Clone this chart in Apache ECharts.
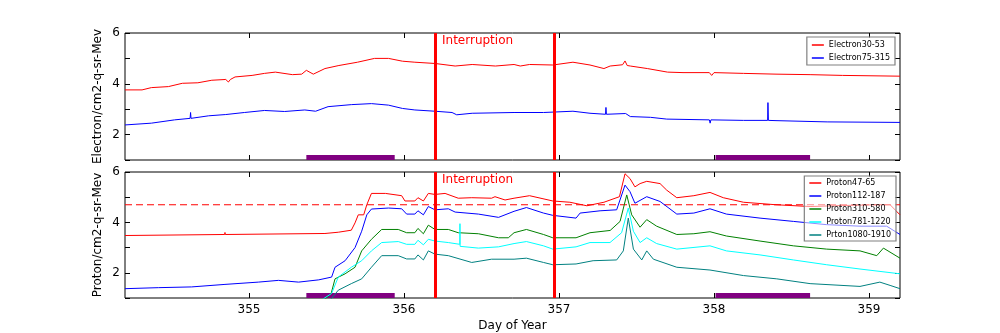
<!DOCTYPE html>
<html><head><meta charset="utf-8">
<script src="https://cdn.jsdelivr.net/npm/echarts@6/dist/echarts.min.js"></script>
<style>html,body{margin:0;padding:0;background:#fff}#c{width:1000px;height:333px}</style>
</head><body><div id="c"></div><script>
// ---- data ----
const xTicks = [355, 356, 357, 358, 359];
const yTicks = [1, 2, 3, 4, 5, 6];
const yLabels = [2, 4, 6];
const interruptionDays = [356.2, 356.97];
const purpleSpans = [[355.37, 355.94], [358.01, 358.62]];
const protonThreshold = 4.7;

const electron30_53 = [[354.2,3.76],[354.31,3.76],[354.37,3.85],[354.48,3.89],[354.57,4.02],[354.67,4.04],[354.76,4.14],[354.85,4.17],[354.867,4.07],[354.88,4.17],[354.91,4.27],[355.02,4.33],[355.1,4.41],[355.17,4.46],[355.28,4.36],[355.34,4.38],[355.37,4.53],[355.415,4.38],[355.49,4.6],[355.58,4.72],[355.7,4.85],[355.81,5.0],[355.9,5.0],[355.99,4.89],[356.07,4.85],[356.2,4.8],[356.33,4.7],[356.44,4.76],[356.59,4.7],[356.71,4.76],[356.75,4.7],[356.81,4.76],[356.96,4.74],[357.09,4.85],[357.2,4.74],[357.29,4.6],[357.33,4.7],[357.41,4.75],[357.426,4.9],[357.44,4.72],[357.46,4.7],[357.57,4.6],[357.7,4.46],[357.8,4.44],[357.97,4.44],[357.985,4.33],[358.0,4.44],[358.19,4.41],[358.4,4.38],[358.62,4.36],[358.83,4.33],[359.2,4.3]];
const electron75_315 = [[354.2,2.38],[354.37,2.45],[354.52,2.58],[354.62,2.64],[354.623,2.87],[354.626,2.64],[354.74,2.74],[354.85,2.79],[354.97,2.87],[355.1,2.95],[355.23,2.91],[355.36,2.97],[355.43,2.92],[355.51,3.1],[355.66,3.18],[355.79,3.22],[355.9,3.16],[355.99,3.03],[356.07,2.97],[356.2,2.92],[356.31,2.87],[356.34,2.78],[356.44,2.84],[356.71,2.87],[356.9,2.87],[357.09,2.92],[357.2,2.84],[357.3,2.8],[357.303,3.07],[357.306,2.8],[357.43,2.83],[357.46,2.71],[357.59,2.68],[357.695,2.61],[357.97,2.58],[357.975,2.45],[357.98,2.58],[358.19,2.56],[358.346,2.56],[358.348,3.26],[358.351,2.56],[358.4,2.55],[358.73,2.5],[359.2,2.48]];

const proton47_65 = [[354.2,3.48],[354.843,3.52],[354.845,3.6],[354.847,3.52],[355.49,3.56],[355.576,3.61],[355.66,3.69],[355.684,3.98],[355.705,4.3],[355.74,4.3],[355.76,4.7],[355.79,5.15],[355.88,5.15],[355.985,5.06],[356.006,4.85],[356.07,4.85],[356.09,4.98],[356.125,4.85],[356.157,5.15],[356.2,5.11],[356.265,5.15],[356.35,4.96],[356.437,4.98],[356.565,4.96],[356.587,5.02],[356.652,4.89],[356.71,4.96],[356.81,5.06],[356.96,4.85],[357.07,4.8],[357.18,4.66],[357.29,4.8],[357.39,5.02],[357.426,5.93],[357.458,5.74],[357.49,5.41],[357.523,5.54],[357.566,5.63],[357.652,5.54],[357.695,5.28],[357.76,4.98],[357.87,5.06],[357.974,5.19],[358.06,4.98],[358.19,4.8],[358.4,4.7],[358.62,4.63],[358.83,4.67],[359.05,4.7],[359.136,4.7],[359.2,4.3]];
const proton112_187 = [[354.2,1.37],[354.415,1.41],[354.63,1.44],[354.845,1.54],[355.06,1.63],[355.19,1.7],[355.32,1.63],[355.45,1.72],[355.533,1.83],[355.555,2.22],[355.62,2.48],[355.684,3.0],[355.727,3.65],[355.76,4.3],[355.79,4.53],[355.9,4.57],[355.985,4.54],[356.017,4.33],[356.07,4.33],[356.09,4.46],[356.125,4.3],[356.157,4.63],[356.2,4.5],[356.286,4.54],[356.33,4.41],[356.48,4.33],[356.61,4.2],[356.71,4.44],[356.79,4.59],[356.9,4.37],[356.96,4.28],[357.11,4.17],[357.136,4.37],[357.265,4.46],[357.372,4.5],[357.426,5.48],[357.458,5.22],[357.49,4.76],[357.566,5.02],[357.652,4.83],[357.76,4.33],[357.87,4.37],[357.974,4.54],[358.08,4.33],[358.297,4.17],[358.512,4.04],[358.727,3.91],[358.942,3.85],[359.114,3.85],[359.2,3.52]];
const proton310_580 = [[355.4,0.9],[355.49,0.95],[355.53,1.18],[355.555,1.76],[355.62,1.96],[355.684,2.22],[355.727,2.87],[355.79,3.33],[355.856,3.72],[355.963,3.72],[356.017,3.59],[356.07,3.59],[356.09,3.76],[356.125,3.55],[356.157,3.89],[356.2,3.72],[356.286,3.72],[356.35,3.59],[356.48,3.55],[356.61,3.39],[356.673,3.39],[356.71,3.59],[356.79,3.72],[356.9,3.52],[356.96,3.39],[357.11,3.39],[357.2,3.59],[357.33,3.68],[357.394,4.04],[357.437,5.09],[357.469,4.3],[357.523,3.81],[357.566,4.11],[357.63,3.85],[357.76,3.52],[357.87,3.55],[357.974,3.63],[358.08,3.46],[358.297,3.26],[358.512,3.07],[358.727,2.94],[358.942,2.87],[359.05,2.68],[359.093,2.98],[359.2,2.58]];
const proton781_1220 = [[355.45,0.85],[355.533,1.18],[355.576,1.83],[355.66,2.22],[355.727,2.48],[355.79,2.87],[355.856,3.2],[355.963,3.24],[356.017,3.13],[356.07,3.13],[356.09,3.29],[356.125,3.11],[356.157,3.33],[356.2,3.26],[356.286,3.2],[356.36,3.13],[356.361,3.95],[356.362,3.05],[356.372,3.0],[356.48,2.98],[356.61,3.03],[356.71,3.16],[356.79,3.24],[356.9,3.07],[356.96,2.94],[357.11,3.03],[357.2,3.2],[357.329,3.2],[357.404,3.59],[357.447,4.57],[357.48,3.65],[357.523,3.2],[357.566,3.39],[357.63,3.16],[357.76,2.94],[357.974,3.07],[358.08,2.87],[358.297,2.71],[358.512,2.51],[358.727,2.32],[358.942,2.15],[359.2,1.96]];
const proton1080_1910 = [[355.5,0.85],[355.533,0.98],[355.576,1.31],[355.66,1.57],[355.727,1.76],[355.79,2.22],[355.856,2.68],[355.963,2.68],[356.017,2.55],[356.07,2.55],[356.09,2.71],[356.125,2.51],[356.157,2.87],[356.2,2.74],[356.286,2.68],[356.437,2.41],[356.565,2.54],[356.71,2.54],[356.79,2.58],[356.9,2.41],[356.96,2.32],[357.11,2.35],[357.22,2.48],[357.372,2.51],[357.415,2.87],[357.447,4.17],[357.48,2.94],[357.534,2.51],[357.566,2.87],[357.609,2.54],[357.76,2.22],[357.974,2.11],[358.19,1.89],[358.405,1.76],[358.62,1.57],[358.942,1.46],[359.07,1.63],[359.136,1.5],[359.2,1.37]];

const electronNames = ['Electron30-53', 'Electron75-315'];
const protonNames = ['Proton47-65', 'Proton112-187', 'Proton310-580', 'Proton781-1220', 'Prton1080-1910'];
const electronColors = ['#ff0000', '#0000ff'];
const protonColors = ['#ff0000', '#0000ff', '#008000', '#00ffff', '#008080'];

// ---- chart ----
const FONT = 'DejaVu Sans';
const chart = echarts.init(document.getElementById('c'), null, {renderer: 'canvas'});
const X_MIN = 354.2, X_MAX = 359.2, Y_MIN = 1, Y_MAX = 6;

function xAx(grid, pos, labels, name) {
  return {
    type: 'value', gridIndex: grid, position: pos, min: X_MIN, max: X_MAX,
    axisLine: {show: false},
    splitLine: {show: false},
    axisTick: {show: true, inside: true, length: 5, lineStyle: {color: '#000'}, customValues: xTicks},
    axisLabel: {show: labels, customValues: xTicks, margin: 6, color: '#000', fontFamily: FONT, fontSize: 12},
    name: name || '', nameLocation: 'middle', nameGap: 22, nameMoveOverlap: false,
    nameTextStyle: {color: '#000', fontFamily: FONT, fontSize: 12}
  };
}
function yAx(grid, pos, labels, name) {
  return {
    type: 'value', gridIndex: grid, position: pos, min: Y_MIN, max: Y_MAX,
    axisLine: {show: false},
    splitLine: {show: false},
    axisTick: {show: true, inside: true, length: 5, lineStyle: {color: '#000'}, customValues: yTicks},
    axisLabel: {show: labels, customValues: yLabels, margin: 5, color: '#000', fontFamily: FONT, fontSize: 12},
    name: name || '', nameLocation: 'middle', nameGap: 21, nameMoveOverlap: false,
    nameTextStyle: {color: '#000', fontFamily: FONT, fontSize: 12}
  };
}

function lineSeries(name, data, color, xi, yi) {
  return {
    name, type: 'line', data, xAxisIndex: xi, yAxisIndex: yi,
    showSymbol: false, symbol: 'none', clip: true, animation: false,
    lineStyle: {color, width: 1}, itemStyle: {color}, z: 3
  };
}

const redSolid = {color: '#ff0000', width: 3, type: 'solid'};
const vLines = interruptionDays.map(d => ({xAxis: d, lineStyle: redSolid}));
const bars = purpleSpans.map(s => [{xAxis: s[0], yAxis: Y_MIN}, {xAxis: s[1], yAxis: Y_MIN + 0.2}]);

const series = [];
electronNames.forEach((n, i) => series.push(lineSeries(n, [electron30_53, electron75_315][i], electronColors[i], 0, 0)));
const protonData = [proton47_65, proton112_187, proton310_580, proton781_1220, proton1080_1910];
protonNames.forEach((n, i) => series.push(lineSeries(n, protonData[i], protonColors[i], 2, 2)));

// threshold dashed line as its own series (not in legend)
series.push({
  name: 'threshold', type: 'line', xAxisIndex: 2, yAxisIndex: 2,
  data: [[X_MIN, protonThreshold], [X_MAX, protonThreshold]],
  showSymbol: false, symbol: 'none', animation: false, silent: true,
  lineStyle: {color: '#ff0000', width: 1, type: [7, 4]}, itemStyle: {color: '#ff0000'}, z: 2
});

// decorations
series[0].markArea = {silent: true, itemStyle: {color: '#800080', opacity: 1}, data: bars};
series[1].markLine = {silent: true, symbol: 'none', label: {show: false}, lineStyle: redSolid, data: vLines};
series[2].markArea = {silent: true, itemStyle: {color: '#800080', opacity: 1}, data: bars};
series[6].markLine = {silent: true, symbol: 'none', label: {show: false}, lineStyle: redSolid, data: vLines};

const legendBase = {
  orient: 'vertical', icon: 'rect', itemWidth: 12, itemHeight: 1.5, itemGap: 3,
  backgroundColor: 'rgba(255,255,255,0.55)', borderColor: '#808080', borderWidth: 1.2, borderRadius: 0,
  textStyle: {fontFamily: FONT, fontSize: 8, color: '#000', lineHeight: 10}, selectedMode: false
};

chart.setOption({
  backgroundColor: '#fff',
  animation: false,
  grid: [
    {left: 125, top: 33, width: 775, height: 127, show: true, borderColor: '#000', borderWidth: 1},
    {left: 125, top: 172, width: 775, height: 127, show: true, borderColor: '#000', borderWidth: 1}
  ],
  xAxis: [xAx(0, 'bottom', false), xAx(0, 'top', false), xAx(1, 'bottom', true, 'Day of Year'), xAx(1, 'top', false)],
  yAxis: [yAx(0, 'left', true, 'Electron/cm2-q-sr-Mev'), yAx(0, 'right', false), yAx(1, 'left', true, 'Proton/cm2-q-sr-Mev'), yAx(1, 'right', false)],
  legend: [
    Object.assign({}, legendBase, {data: electronNames, right: 105, top: 37, padding: [3, 5, 2, 5]}),
    Object.assign({}, legendBase, {data: protonNames, right: 104, top: 176, padding: [2, 5, 1, 5]})
  ],
  series
});

const tx = chart.convertToPixel({xAxisIndex: 0}, interruptionDays[0]) + 7;
chart.setOption({
  graphic: [
    {type: 'text', left: tx, top: 35, style: {text: 'Interruption', fill: '#ff0000', font: '12px "DejaVu Sans"'}, z: 10},
    {type: 'text', left: tx, top: 174, style: {text: 'Interruption', fill: '#ff0000', font: '12px "DejaVu Sans"'}, z: 10}
  ]
});
</script></body></html>
